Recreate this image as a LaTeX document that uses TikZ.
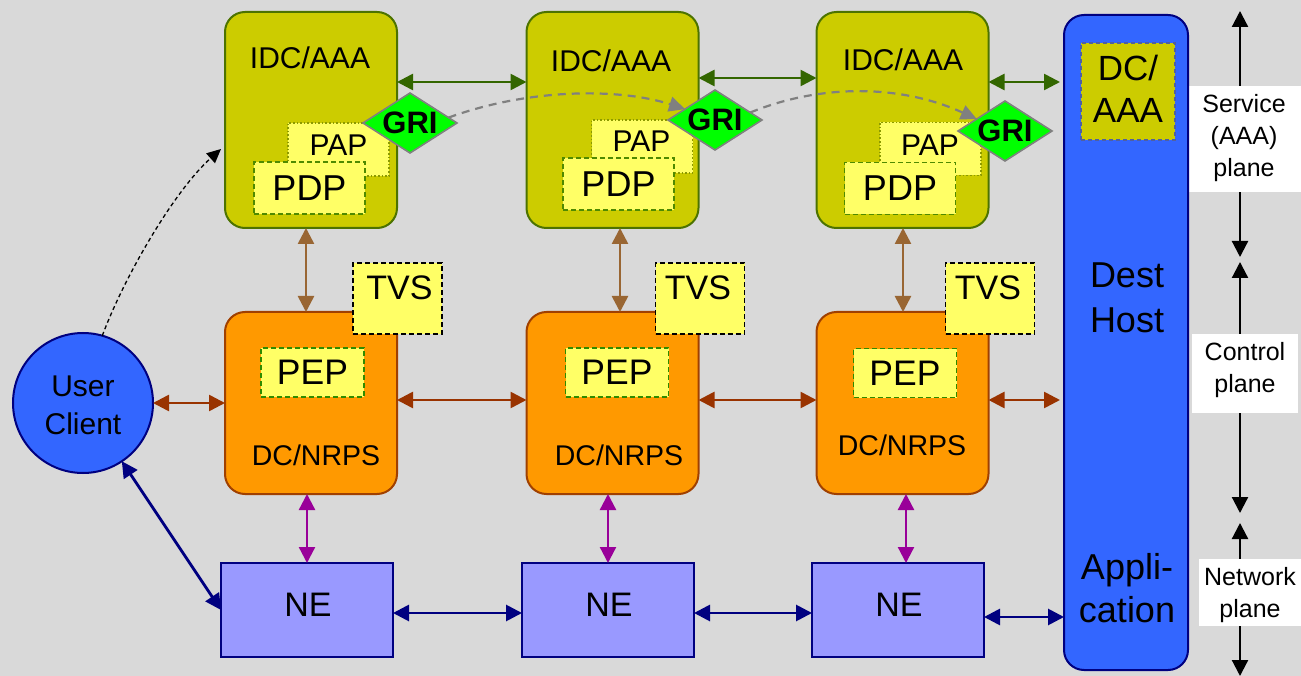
\documentclass[tikz,border=0pt]{standalone}
\usepackage{fontspec}
\setmainfont{Liberation Sans}
\usetikzlibrary{arrows.meta,shapes.geometric}

\definecolor{bgc}{HTML}{D9D9D9}
\definecolor{olivefill}{HTML}{CCCC00}
\definecolor{oliveline}{HTML}{4D7300}
\definecolor{paleyellow}{HTML}{FFFF66}
\definecolor{papline}{HTML}{8C9900}
\definecolor{pdpline}{HTML}{4F8A00}
\definecolor{grifill}{HTML}{00FF00}
\definecolor{griline}{HTML}{808080}
\definecolor{nrpsfill}{HTML}{FF9900}
\definecolor{nrpsline}{HTML}{A04000}
\definecolor{pepline}{HTML}{2E8B00}
\definecolor{tanline}{HTML}{996633}
\definecolor{rustline}{HTML}{993300}
\definecolor{purpline}{HTML}{990099}
\definecolor{nefill}{HTML}{9999FF}
\definecolor{navyline}{HTML}{000080}
\definecolor{hostblue}{HTML}{3366FF}
\definecolor{greenline}{HTML}{336600}
\definecolor{dcaaaline}{HTML}{5060A0}

\tikzset{
  every node/.style={inner sep=0pt, outer sep=0pt},
  idcbox/.style={draw=oliveline, fill=olivefill, line width=2pt, rounded corners=20pt,
    minimum width=172pt, minimum height=216pt},
  nrpsbox/.style={draw=nrpsline, fill=nrpsfill, line width=2pt, rounded corners=20pt,
    minimum width=172pt, minimum height=182pt},
  nebox/.style={draw=navyline, fill=nefill, line width=2.5pt,
    minimum width=172pt, minimum height=94pt},
  papbox/.style={draw=papline, fill=paleyellow, line width=1.6pt, dotted,
    minimum width=101pt, minimum height=53pt},
  pdpbox/.style={draw=pdpline, fill=paleyellow, line width=1.6pt, dash pattern=on 5pt off 3pt,
    minimum width=111pt, minimum height=52pt, font=\fontsize{36}{40}\selectfont},
  gridiamond/.style={diamond, aspect=1.57, draw=griline, fill=grifill, line width=1.6pt,
    minimum width=94pt, minimum height=60pt, font=\fontsize{31}{34}\selectfont\bfseries},
  tvsbox/.style={draw=black, fill=paleyellow, line width=1.6pt, dash pattern=on 5pt off 3pt,
    minimum width=89pt, minimum height=71pt},
  pepbox/.style={draw=pepline, fill=paleyellow, line width=1.6pt, dash pattern=on 5pt off 3pt,
    minimum width=103pt, minimum height=49pt, font=\fontsize{35.5}{40}\selectfont},
  hostbox/.style={draw=navyline, fill=hostblue, line width=2pt, rounded corners=20pt,
    minimum width=124pt, minimum height=655pt},
  dcaaabox/.style={draw=dcaaaline, fill=olivefill, line width=1.4pt, dash pattern=on 4pt off 3pt,
    minimum width=94pt, minimum height=97pt},
  clientnode/.style={circle, draw=navyline, fill=hostblue, line width=2pt, minimum size=140pt},
  planebox/.style={fill=white},
  t25/.style={align=center, font=\fontsize{25}{32}\selectfont},
  t29/.style={font=\fontsize{28.5}{34}\selectfont},
  t30/.style={align=center, font=\fontsize{30}{38}\selectfont},
  t34/.style={font=\fontsize{34}{40}\selectfont},
  t36/.style={align=center, font=\fontsize{36}{43}\selectfont},
  twoway/.style={{Triangle[length=16pt,width=16pt]}-{Triangle[length=16pt,width=16pt]}, line width=2.6pt},
  greenlink/.style={twoway, draw=greenline, fill=greenline},
  tanlink/.style={twoway, draw=tanline},
  rustlink/.style={twoway, draw=rustline},
  purplink/.style={twoway, draw=purpline, line width=2.3pt},
  navylink/.style={twoway, draw=navyline, line width=2.8pt},
  grilink/.style={-{Triangle[length=16pt,width=15pt]}, draw=griline, line width=2.2pt,
    dash pattern=on 8pt off 6pt},
  loginlink/.style={-{Triangle[length=14pt,width=13pt]}, draw=black, line width=1.3pt,
    dash pattern=on 4pt off 3pt},
  axis/.style={{Triangle[length=16pt,width=16pt]}-{Triangle[length=16pt,width=16pt]},
    draw=black, line width=2.2pt},
}

\begin{document}
\begin{tikzpicture}[x=1pt,y=1pt]
% canvas
\fill[bgc] (0,0) rectangle (1301,-676);
\useasboundingbox (0,0) rectangle (1301,-676);

% plane axis on the right
\coordinate (ax0) at (1240,-11);
\coordinate (ax1) at (1240,-257);
\coordinate (ax2) at (1240,-262);
\coordinate (ax3) at (1240,-513);
\coordinate (ax4) at (1240,-523);
\coordinate (ax5) at (1240,-676);
\draw[axis] (ax0) -- (ax1);
\draw[axis] (ax2) -- (ax3);
\draw[axis] (ax4) -- (ax5);
\node[planebox, minimum width=112pt, minimum height=106pt] (svcbox) at (1245,-139) {};
\node[t25] (svctext) at (1244,-138.5) {Service\\(AAA)\\plane};
\node[planebox, minimum width=106pt, minimum height=79pt] (ctlbox) at (1245,-373.5) {};
\node[t25] (ctltext) at (1245,-370.5) {Control\\plane};
\node[planebox, minimum width=102pt, minimum height=67pt] (netbox) at (1250,-592.5) {};
\node[t25] (nettext) at (1250,-595) {Network\\plane};

% destination host
\node[hostbox] (host) at (1126,-342.5) {};
\node[dcaaabox] (dcaaa) at (1128,-91.5) {};
\node[t36, font=\fontsize{35}{42}\selectfont] (dcaaatext) at (1128,-89) {DC/\\AAA};
\node[t36, font=\fontsize{36}{45}\selectfont] (hosttext) at (1127,-297.5) {Dest\\Host};
\node[t36] (apptext) at (1127,-588) {Appli-\\cation};

% user client
\node[clientnode] (uc) at (83,-403) {};
\node[t30] (uctext) at (83,-405) {User\\Client};

% ---- service plane: IDC/AAA domains ----
\node[idcbox] (idc1) at (311,-120) {};
\node[idcbox] (idc2) at (612.5,-120) {};
\node[idcbox] (idc3) at (902.5,-120) {};
\node[t30] (idc1t) at (310,-58) {IDC/AAA};
\node[t30] (idc2t) at (611,-61) {IDC/AAA};
\node[t30] (idc3t) at (903,-60) {IDC/AAA};

\node[papbox] (pap1) at (338.5,-149.5) {};
\node[papbox] (pap2) at (642,-146.5) {};
\node[papbox] (pap3) at (930.5,-149) {};
\node[t30] (pap1t) at (338.5,-145) {PAP};
\node[t30] (pap2t) at (641.5,-141.5) {PAP};
\node[t30] (pap3t) at (930,-145) {PAP};

\node[pdpbox] (pdp1) at (309.5,-188) {PDP};
\node[pdpbox] (pdp2) at (618.5,-184) {PDP};
\node[pdpbox] (pdp3) at (900,-188.5) {PDP};

\node[gridiamond] (gri1) at (410,-123) {GRI};
\node[gridiamond] (gri2) at (715,-120) {GRI};
\node[gridiamond] (gri3) at (1005,-131) {GRI};

% ---- control plane: DC/NRPS domains ----
\node[nrpsbox] (nrps1) at (311,-403) {};
\node[nrpsbox] (nrps2) at (612.5,-403) {};
\node[nrpsbox] (nrps3) at (902.5,-403) {};
\node[t29] (nrps1t) at (316,-455) {DC/NRPS};
\node[t29] (nrps2t) at (619,-455) {DC/NRPS};
\node[t29] (nrps3t) at (902,-445) {DC/NRPS};

\node[pepbox] (pep1) at (312.5,-372.5) {PEP};
\node[pepbox] (pep2) at (617,-372.5) {PEP};
\node[pepbox] (pep3) at (905,-373) {PEP};

\node[tvsbox] (tvs1) at (397.5,-298.5) {};
\node[tvsbox] (tvs2) at (700,-298.5) {};
\node[tvsbox] (tvs3) at (990,-298.5) {};
\node[t34] (tvs1t) at (399.5,-287.5) {TVS};
\node[t34] (tvs2t) at (698,-288) {TVS};
\node[t34] (tvs3t) at (988,-288) {TVS};

% ---- network plane: network elements ----
\node[nebox] (ne1) at (307,-610) {};
\node[nebox] (ne2) at (608,-610) {};
\node[nebox] (ne3) at (898,-610) {};
\node[t34] (ne1t) at (308,-605) {NE};
\node[t34] (ne2t) at (609,-605) {NE};
\node[t34] (ne3t) at (899,-605) {NE};

% ---- links ----
% AAA peering
\draw[greenlink] (idc1.east |- 0,-82) -- (idc2.west |- 0,-82);
\draw[greenlink] (idc2.east |- 0,-78) -- (idc3.west |- 0,-78);
\draw[greenlink, shorten >=4pt] (idc3.east |- 0,-82) -- (host.west |- 0,-82);

% AAA to NRPS
\draw[tanlink] (idc1.south -| 306,0) -- (nrps1.north -| 306,0);
\draw[tanlink] (idc2.south -| 620,0) -- (nrps2.north -| 620,0);
\draw[tanlink] (idc3.south -| 903,0) -- (nrps3.north -| 903,0);

% NRPS peering
\draw[rustlink] (uc.east) -- (nrps1.west |- uc.east);
\draw[rustlink] (nrps1.east |- 0,-400) -- (nrps2.west |- 0,-400);
\draw[rustlink] (nrps2.east |- 0,-400) -- (nrps3.west |- 0,-400);
\draw[rustlink, shorten >=4pt] (nrps3.east |- 0,-400) -- (host.west |- 0,-400);

% NRPS to NE
\draw[purplink] (nrps1.south -| 307,0) -- (ne1.north -| 307,0);
\draw[purplink] (nrps2.south -| 608,0) -- (ne2.north -| 608,0);
\draw[purplink] (nrps3.south -| 906,0) -- (ne3.north -| 906,0);

% data path
\draw[navylink] (ne1.east |- 0,-613) -- (ne2.west |- 0,-613);
\draw[navylink] (ne2.east |- 0,-613) -- (ne3.west |- 0,-613);
\draw[navylink] (ne3.east |- 0,-617) -- (host.west |- 0,-617);
\draw[navylink] (uc) -- (ne1.west);

% GRI hand-over
\draw[grilink] (gri1.8) .. controls (530,-88) and (620,-88) .. (gri2.160);
\draw[grilink] (gri2.12) .. controls (820,-84) and (900,-84) .. (gri3.157);

% user request to the first AAA
\draw[loginlink] (uc.74) .. controls (125,-275) and (175,-190) .. ([xshift=-4pt,yshift=-29pt]idc1.west);
\end{tikzpicture}
\end{document}
